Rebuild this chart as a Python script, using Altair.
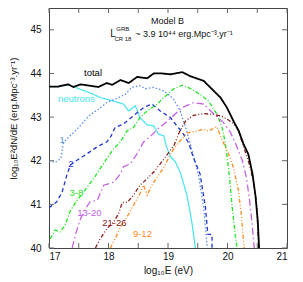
import altair as alt
import pandas as pd

# ---------------- data ----------------
total_x = [17.0, 17.15, 17.32, 17.41, 17.53, 17.68, 17.83, 17.97, 18.06, 18.2, 18.34, 18.48,
           18.65, 18.76, 18.9, 19.04, 19.24, 19.37, 19.6, 19.71, 19.88, 19.99, 20.10, 20.19,
           20.27, 20.35, 20.42, 20.47, 20.51, 20.53]
total_y = [43.70, 43.70, 43.75, 43.69, 43.75, 43.72, 43.69, 43.78, 43.74, 43.85, 43.78, 43.92,
           43.89, 44.0, 44.0, 43.98, 44.03, 43.94, 43.83, 43.68, 43.45, 43.22, 42.91, 42.68,
           42.38, 42.15, 41.7, 41.2, 40.6, 40.0]

neutrons_x = [17.0, 17.15, 17.33, 17.5, 17.7, 17.86, 18.05, 18.25, 18.34, 18.45, 18.53, 18.65,
              18.76, 18.84, 18.93, 18.97, 19.04, 19.12, 19.21, 19.32, 19.40, 19.46]
neutrons_y = [43.70, 43.70, 43.74, 43.65, 43.55, 43.45, 43.38, 43.30, 43.14, 43.26, 42.99, 42.82,
              42.80, 42.61, 42.57, 42.34, 42.1, 41.98, 41.72, 41.2, 40.6, 40.0]

s1_x = [17.0, 17.1, 17.2, 17.24, 17.3, 17.44, 17.55, 17.67, 17.83, 17.97, 18.11, 18.28, 18.39,
        18.53, 18.62, 18.76, 18.93, 19.09, 19.2, 19.3, 19.37, 19.45, 19.51, 19.6, 19.64, 19.66]
s1_y = [42.0, 41.96, 42.05, 42.4, 42.5, 42.68, 42.84, 43.03, 43.18, 43.33, 43.41, 43.52, 43.68,
        43.72, 43.65, 43.68, 43.6, 43.42, 43.15, 42.75, 42.4, 42.0, 41.69, 40.92, 40.32, 40.0]

s2_x = [17.0, 17.13, 17.22, 17.3, 17.36, 17.47, 17.64, 17.81, 17.97, 18.03, 18.11, 18.25, 18.42,
        18.59, 18.73, 18.87, 19.04, 19.15, 19.26, 19.35, 19.42, 19.54, 19.63, 19.67, 19.74, 19.74]
s2_y = [40.92, 41.06, 41.28, 41.67, 41.90, 42.01, 42.16, 42.32, 42.43, 42.53, 42.76, 42.84, 43.03,
        43.22, 43.30, 43.14, 42.99, 42.80, 42.61, 42.4, 42.1, 41.69, 40.92, 40.31, 40.31, 40.0]

s3_x = [17.02, 17.1, 17.19, 17.27, 17.36, 17.47, 17.58, 17.75, 17.86, 17.97, 18.09, 18.2, 18.31,
        18.42, 18.53, 18.65, 18.82, 18.93, 19.09, 19.24, 19.37, 19.54, 19.68, 19.82, 19.91, 19.96,
        20.02, 20.08, 20.13, 20.16]
s3_y = [40.21, 40.41, 40.37, 40.52, 40.86, 41.09, 41.28, 41.59, 41.82, 42.05, 42.28, 42.43, 42.68,
        42.76, 42.99, 43.14, 43.30, 43.45, 43.64, 43.73, 43.66, 43.52, 43.37, 43.07, 42.76, 42.42,
        41.8, 40.92, 40.31, 40.0]

s9_x = [18.03, 18.11, 18.2, 18.31, 18.42, 18.53, 18.59, 18.65, 18.72, 18.81, 18.93, 19.04, 19.12,
        19.2, 19.32, 19.49, 19.6, 19.68, 19.82, 19.9, 20.0, 20.1, 20.18, 20.23, 20.26, 20.28]
s9_y = [40.0, 40.21, 40.48, 40.71, 40.98, 41.25, 41.44, 41.21, 41.42, 41.61, 41.84, 42.15, 42.32,
        42.45, 42.64, 42.68, 42.72, 42.68, 42.78, 42.5, 42.22, 41.84, 41.35, 40.8, 40.3, 40.0]

s13_x = [17.39, 17.44, 17.53, 17.61, 17.69, 17.81, 17.92, 18.09, 18.2, 18.25, 18.37, 18.48, 18.59,
         18.7, 18.82, 18.93, 19.09, 19.24, 19.43, 19.6, 19.77, 19.93, 20.05, 20.15, 20.25, 20.32,
         20.37, 20.41, 20.45]
s13_y = [40.0, 40.29, 40.67, 40.9, 41.06, 41.09, 41.44, 41.51, 41.70, 41.86, 41.93, 42.16, 42.43,
         42.55, 42.72, 42.84, 43.03, 43.22, 43.33, 43.30, 43.07, 42.88, 42.65, 42.35, 42.0, 41.6,
         41.1, 40.6, 40.0]

s21_x = [17.78, 17.86, 17.97, 18.09, 18.17, 18.23, 18.32, 18.42, 18.53, 18.65, 18.76, 18.87, 18.98,
         19.1, 19.2, 19.3, 19.43, 19.6, 19.77, 19.9, 20.0, 20.1, 20.16, 20.24, 20.3, 20.36, 20.44,
         20.49, 20.51, 20.53]
s21_y = [40.0, 40.21, 40.44, 40.6, 40.79, 41.04, 41.05, 41.21, 41.44, 41.59, 41.74, 41.93, 42.13,
         42.35, 42.68, 42.92, 43.04, 43.08, 43.06, 43.02, 42.95, 42.85, 42.76, 42.45, 42.2, 41.95,
         41.5, 41.0, 40.4, 40.0]

x_ticks = [17, 17.5, 18, 18.5, 19, 19.5, 20, 20.5, 21]
y_ticks = [40, 41, 42, 43, 44, 45]

series = {
    "neutrons": (neutrons_x, neutrons_y),
    "1": (s1_x, s1_y),
    "2": (s2_x, s2_y),
    "3-8": (s3_x, s3_y),
    "9-12": (s9_x, s9_y),
    "13-20": (s13_x, s13_y),
    "21-26": (s21_x, s21_y),
    "total": (total_x, total_y),
}

# curve labels and their anchor positions (data coordinates)
label_names = ["total", "neutrons", "1", "2", "3-8", "13-20", "21-26", "9-12"]
label_x = [17.74, 17.46, 17.22, 17.37, 17.46, 17.68, 18.1, 18.57]
label_y = [44.01, 43.42, 42.48, 41.93, 41.25, 40.8, 40.57, 40.31]

# ---------------- styles ----------------
styles = {
    "total": ("#000000", [1, 0], 1.8),
    "neutrons": ("#45e3ef", [1, 0], 1.2),
    "1": ("#5b8ff0", [1.5, 2], 1.3),
    "2": ("#2235d2", [4, 3], 1.3),
    "3-8": ("#22e622", [4, 2, 1, 2], 1.3),
    "9-12": ("#ff8a1f", [4, 2, 1, 2, 1, 2], 1.3),
    "13-20": ("#c462e6", [7, 3, 1.5, 3], 1.3),
    "21-26": ("#8a1c1c", [4, 2, 1, 2, 1, 2], 1.3),
}

W, H = 238, 240
FONT = "Liberation Sans"
xscale = alt.Scale(domain=[17, 21], nice=False, zero=False)
yscale = alt.Scale(domain=[40, 45.5], nice=False, zero=False)

layers = []
first = True
for name, (xs, ys) in series.items():
    df = pd.DataFrame({"x": xs, "y": ys, "i": list(range(len(xs)))})
    color, dash, width = styles[name]
    if first:
        xenc = alt.X("x:Q", scale=xscale, axis=alt.Axis(
            values=x_ticks, format="~g", title="log₁₀E (eV)", titlePadding=4,
            labelPadding=3))
        yenc = alt.Y("y:Q", scale=yscale, axis=alt.Axis(
            values=y_ticks, format="d", title="log₁₀E²dN/dE (erg.Mpc⁻³.yr⁻¹)",
            titlePadding=11, labelPadding=8, titleFontSize=9.5, titleY=110))
        first = False
    else:
        xenc = alt.X("x:Q", scale=xscale)
        yenc = alt.Y("y:Q", scale=yscale)
    layers.append(
        alt.Chart(df).mark_line(color=color, strokeDash=dash, strokeWidth=width, clip=True)
        .encode(x=xenc, y=yenc, order=alt.Order("i:Q"))
    )

# inward tick marks on all four sides
xt = pd.DataFrame({"x": x_ticks})
yt = pd.DataFrame({"y": y_ticks})
tick_color = "#666666"
layers += [
    alt.Chart(xt).mark_rule(color=tick_color).encode(
        x=alt.X("x:Q", scale=xscale), y=alt.value(H), y2=alt.value(H - 5)),
    alt.Chart(xt).mark_rule(color=tick_color).encode(
        x=alt.X("x:Q", scale=xscale), y=alt.value(0), y2=alt.value(5)),
    alt.Chart(yt).mark_rule(color=tick_color).encode(
        y=alt.Y("y:Q", scale=yscale), x=alt.value(0), x2=alt.value(5)),
    alt.Chart(yt).mark_rule(color=tick_color).encode(
        y=alt.Y("y:Q", scale=yscale), x=alt.value(W), x2=alt.value(W - 5)),
]

# curve labels
lab = pd.DataFrame({"t": label_names, "x": label_x, "y": label_y,
                    "c": [styles[n][0] for n in label_names]})
layers.append(
    alt.Chart(lab).mark_text(font=FONT, fontSize=9.5, align="center", baseline="middle")
    .encode(x=alt.X("x:Q", scale=xscale), y=alt.Y("y:Q", scale=yscale),
            text="t:N", color=alt.Color("c:N", scale=None))
)

# titles inside the plot
ann_text = ["Model B", "L", "GRB", "CR 18", "~ 3.9 10⁴⁴ erg.Mpc⁻³.yr⁻¹"]
ann_x = [18.99, 18.03, 18.13, 18.10, 18.45]
ann_y = [45.21, 44.91, 45.01, 44.79, 44.91]
ann_size = [9, 10, 6, 6, 9]
ann_align = ["center", "left", "left", "left", "left"]
for t, x, y, s, a in zip(ann_text, ann_x, ann_y, ann_size, ann_align):
    layers.append(
        alt.Chart(pd.DataFrame({"t": [t], "x": [x], "y": [y]}))
        .mark_text(font=FONT, fontSize=s, align=a, baseline="middle", color="#111111")
        .encode(x=alt.X("x:Q", scale=xscale), y=alt.Y("y:Q", scale=yscale), text="t:N")
    )

chart = (
    alt.layer(*layers)
    .properties(width=W, height=H,
                autosize=alt.AutoSizeParams(type="none"),
                padding={"left": 41, "top": 0, "right": 8, "bottom": 34})
    .configure_view(stroke="#444444", strokeWidth=1)
    .configure_axis(grid=False, domain=False, ticks=False, labelFont=FONT, titleFont=FONT,
                    labelFontSize=10, titleFontSize=10, titleFontWeight="normal",
                    labelColor="#111111", titleColor="#111111")
)

chart.save("out.html", embed_options={"renderer": "svg", "actions": False})
